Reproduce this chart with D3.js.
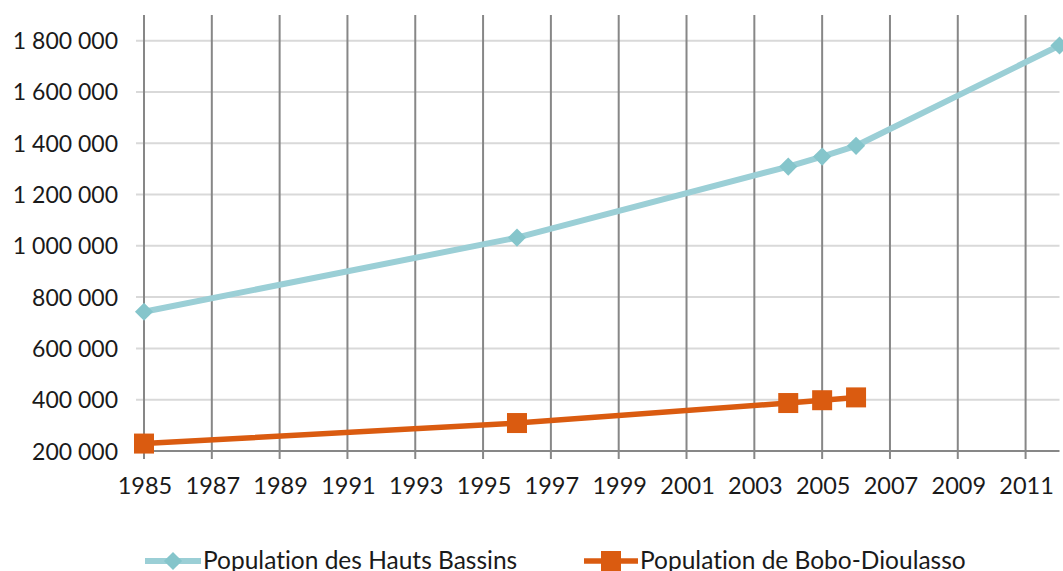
<!DOCTYPE html>
<html>
<head>
<meta charset="utf-8">
<script src="https://cdn.jsdelivr.net/npm/d3@7"></script>
<style>
  body { margin: 0; background: #fff; }
  svg { display: block; font-family: Lato, "Open Sans", sans-serif; font-variant-ligatures: none; }
</style>
</head>
<body>
<svg width="1063" height="571"></svg>
<script>
// data
var yearsHauts = [1985, 1996, 2004, 2005, 2006, 2012];
var popHauts = [743000, 1032000, 1309000, 1348000, 1390000, 1781000];
var yearsBobo = [1985, 1996, 2004, 2005, 2006];
var popBobo = [229000, 309000, 387000, 398000, 409000];
var xTicks = d3.range(1985, 2012, 2);
var yTicks = d3.range(200000, 1800001, 200000);
var seriesNames = ["Population des Hauts Bassins", "Population de Bobo-Dioulasso"];

var blue = "#9bcfd6", blueMark = "#85c5cb", orange = "#da5b10";

var svg = d3.select("svg");
var x = d3.scaleLinear().domain([1985, 2012]).range([144, 1059.5]);
var y = d3.scaleLinear().domain([200000, 1900000]).range([451, 15]);

var fmt = function(d) { return d3.format(",")(d).replace(/,/g, " "); };

// horizontal gridlines (light)
svg.append("g")
    .selectAll("line")
    .data(yTicks.slice(1))
    .enter()
    .append("line")
    .attr("x1", 136).attr("x2", x(2012))
    .attr("y1", (d) => y(d)).attr("y2", (d) => y(d))
    .attr("stroke", "#d9d9d9").attr("stroke-width", 2);

// vertical gridlines (dark)
svg.append("g")
    .selectAll("line")
    .data(xTicks)
    .enter()
    .append("line")
    .attr("x1", (d) => x(d)).attr("x2", (d) => x(d))
    .attr("y1", 15).attr("y2", 459)
    .attr("stroke", "#878787").attr("stroke-width", 2);

// bottom axis line
svg.append("line")
    .attr("x1", 136).attr("x2", x(2012))
    .attr("y1", y(200000)).attr("y2", y(200000))
    .attr("stroke", "#878787").attr("stroke-width", 2);

// y labels
svg.append("g")
    .selectAll("text")
    .data(yTicks)
    .enter()
    .append("text")
    .attr("x", 118)
    .attr("y", (d) => y(d) + 8.5)
    .attr("text-anchor", "end")
    .attr("font-size", 23)
    .attr("fill", "#1a1a1a")
    .text(fmt);

// x labels
svg.append("g")
    .selectAll("text")
    .data(xTicks)
    .enter()
    .append("text")
    .attr("x", (d) => x(d) + 1)
    .attr("y", 494)
    .attr("text-anchor", "middle")
    .attr("font-size", 23.5)
    .attr("fill", "#1a1a1a")
    .text((d) => d);

var line = d3.line().x((d) => x(d[0])).y((d) => y(d[1]));
var hauts = yearsHauts.map((d, i) => [d, popHauts[i]]);
var bobo = yearsBobo.map((d, i) => [d, popBobo[i]]);

var plot = svg.append("g");
plot.append("path")
    .datum(hauts)
    .attr("d", line)
    .attr("fill", "none")
    .attr("stroke", blue)
    .attr("stroke-width", 6)
    .attr("stroke-linejoin", "round");

plot.append("path")
    .datum(bobo)
    .attr("d", line)
    .attr("fill", "none")
    .attr("stroke", orange)
    .attr("stroke-width", 5.5)
    .attr("stroke-linejoin", "round");

var diamond = d3.symbol().type(d3.symbolDiamond2).size(210);
plot.selectAll(".dm")
    .data(hauts)
    .enter()
    .append("path")
    .attr("class", "dm")
    .attr("d", diamond)
    .attr("transform", (d) => "translate(" + x(d[0]) + "," + y(d[1]) + ")")
    .attr("fill", blueMark);

plot.selectAll(".sq")
    .data(bobo)
    .enter()
    .append("rect")
    .attr("class", "sq")
    .attr("x", (d) => x(d[0]) - 10)
    .attr("y", (d) => y(d[1]) - 10)
    .attr("width", 20).attr("height", 20)
    .attr("fill", orange);

// legend
var legend = svg.append("g");
var lg1 = legend.append("g").attr("transform", "translate(145,561)");
lg1.append("line").attr("x1", 0).attr("x2", 56).attr("stroke", blue).attr("stroke-width", 6);
lg1.append("path").attr("d", diamond).attr("transform", "translate(28,0)").attr("fill", blueMark);
lg1.append("text").attr("x", 58).attr("y", 8).attr("font-size", 24.5).attr("fill", "#1a1a1a").text(seriesNames[0]);

var lg2 = legend.append("g").attr("transform", "translate(584,561)");
lg2.append("line").attr("x1", 0).attr("x2", 54).attr("stroke", orange).attr("stroke-width", 5.5);
lg2.append("rect").attr("x", 17).attr("y", -10).attr("width", 20).attr("height", 20).attr("fill", orange);
lg2.append("text").attr("x", 56).attr("y", 8).attr("font-size", 24.5).attr("fill", "#1a1a1a").text(seriesNames[1]);
</script>
</body>
</html>
